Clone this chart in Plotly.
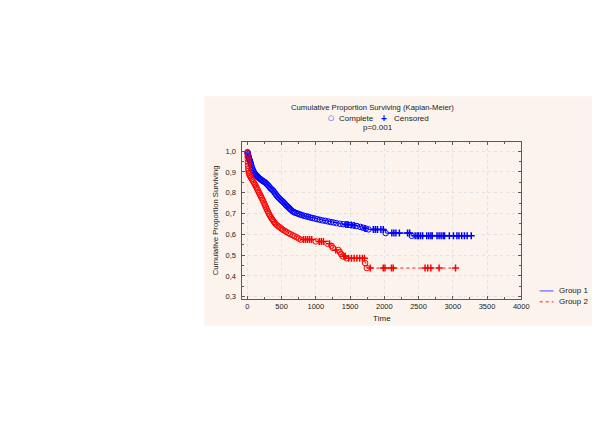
import numpy as np
import plotly.graph_objects as go

# ---------------- data ----------------
g1_event_time = [0, 3, 6, 10, 14, 18, 23, 28, 34, 40, 47, 54, 62, 70, 80, 90, 100, 112, 125, 140,
                 155, 170, 185, 200, 215, 230, 245, 260, 275, 290, 305, 320, 335, 350, 365, 380,
                 395, 410, 425, 440, 455, 470, 485, 500, 515, 530, 545, 560, 575, 590, 605, 620,
                 640, 660, 680, 700, 725, 750, 775, 800, 830, 860, 890, 920, 950, 985, 1020, 1060,
                 1100, 1140, 1180, 1220, 1260, 1300, 1350, 1400, 1450, 1500, 1550, 1600, 1650,
                 1690, 1730, 1770, 2020, 2400]
g1_event_surv = [1.000, 0.995, 0.990, 0.984, 0.978, 0.972, 0.966, 0.961, 0.956, 0.951, 0.944, 0.936,
                 0.926, 0.918, 0.910, 0.903, 0.896, 0.891, 0.886, 0.881, 0.876, 0.871, 0.867, 0.863,
                 0.859, 0.856, 0.853, 0.850, 0.845, 0.840, 0.835, 0.829, 0.823, 0.818, 0.814, 0.809,
                 0.802, 0.795, 0.788, 0.782, 0.777, 0.772, 0.767, 0.762, 0.758, 0.753, 0.748, 0.742,
                 0.737, 0.733, 0.728, 0.723, 0.717, 0.711, 0.707, 0.704, 0.701, 0.698, 0.695, 0.692,
                 0.689, 0.687, 0.684, 0.681, 0.679, 0.676, 0.673, 0.670, 0.667, 0.665, 0.662, 0.659,
                 0.657, 0.654, 0.651, 0.649, 0.647, 0.645, 0.643, 0.640, 0.636, 0.632, 0.628, 0.624,
                 0.606, 0.593]
g1_cens_time = [1440, 1470, 1520, 1560, 1720, 1840, 1870, 1900, 1950, 1985, 2110, 2140, 2170, 2220,
                2340, 2370, 2450, 2480, 2500, 2530, 2560, 2620, 2650, 2680, 2700, 2770, 2800, 2830,
                2860, 2880, 2950, 3010, 3060, 3090, 3130, 3170, 3210, 3270]
g1_cens_surv = [0.647, 0.647, 0.645, 0.643, 0.628, 0.624, 0.624, 0.624, 0.624, 0.624, 0.606, 0.606,
                0.606, 0.606, 0.606, 0.606, 0.593, 0.593, 0.593, 0.593, 0.593, 0.593, 0.593, 0.593,
                0.593, 0.593, 0.593, 0.593, 0.593, 0.593, 0.593, 0.593, 0.593, 0.593, 0.593, 0.593,
                0.593, 0.593]

g2_event_time = [0, 2, 4, 6, 8, 10, 13, 16, 22, 30, 40, 52, 65, 78, 90, 102, 114, 126, 138, 150,
                 162, 174, 186, 198, 210, 222, 234, 246, 258, 270, 282, 294, 306, 318, 330, 345,
                 360, 375, 390, 405, 420, 440, 460, 480, 500, 520, 545, 570, 600, 630, 660, 690,
                 720, 750, 780, 1000, 1170, 1230, 1250, 1330, 1350, 1370, 1390, 1450, 1720, 1745]
g2_event_surv = [1.000, 0.990, 0.975, 0.960, 0.945, 0.930, 0.915, 0.905, 0.895, 0.887, 0.880, 0.873,
                 0.866, 0.859, 0.852, 0.845, 0.838, 0.830, 0.822, 0.814, 0.806, 0.798, 0.790, 0.782,
                 0.774, 0.766, 0.758, 0.749, 0.740, 0.731, 0.722, 0.713, 0.705, 0.697, 0.690, 0.682,
                 0.674, 0.667, 0.660, 0.653, 0.647, 0.642, 0.637, 0.632, 0.627, 0.622, 0.617, 0.612,
                 0.606, 0.601, 0.596, 0.591, 0.586, 0.580, 0.575, 0.566, 0.555, 0.545, 0.535, 0.525,
                 0.515, 0.505, 0.495, 0.485, 0.462, 0.438]
g2_cens_time = [820, 850, 880, 910, 940, 1050, 1080, 1110, 1200, 1290, 1410, 1430, 1480, 1520, 1560,
                1600, 1640, 1680, 1710, 1795, 1985, 2010, 2105, 2130, 2595, 2635, 2680, 2800, 3040]
g2_cens_surv = [0.575, 0.575, 0.575, 0.575, 0.575, 0.566, 0.566, 0.566, 0.555, 0.525, 0.495, 0.495,
                0.485, 0.485, 0.485, 0.485, 0.485, 0.485, 0.485, 0.438, 0.438, 0.438, 0.438, 0.438,
                0.438, 0.438, 0.438, 0.438, 0.438]

group_names = ["Group 1", "Group 2"]
marker_names = ["Complete", "Censored"]
x_ticks = [0, 500, 1000, 1500, 2000, 2500, 3000, 3500, 4000]
y_ticks = [0.3, 0.4, 0.5, 0.6, 0.7, 0.8, 0.9, 1.0]

title_text = "Cumulative Proportion Surviving (Kaplan-Meier)"
p_text = "p=0.001"
x_title = "Time"
y_title = "Cumulative Proportion Surviving"

BLUE = "#0000ff"
RED = "#ff0000"
TXT = "#1a1a1a"
FONT = "Liberation Sans, Arial, sans-serif"

# reference frame size, used only to express layout positions as fractions of the page
W, H = 600, 424


def px(X):
    return X / W


def py(Y):
    return (H - Y) / H


def step_points(et, es, ct, cs):
    t = np.concatenate([et, ct])
    s = np.concatenate([es, cs])
    order = np.argsort(t, kind="stable")
    return t[order], s[order]


fig = go.Figure()

groups = [
    (g1_event_time, g1_event_surv, g1_cens_time, g1_cens_surv, BLUE, "solid", 1.0),
    (g2_event_time, g2_event_surv, g2_cens_time, g2_cens_surv, RED, "dot", 0.9),
]

for name, (et, es, ct, cs, col, dash, lw) in zip(group_names, groups):
    lt, ls = step_points(np.array(et, float), np.array(es, float),
                         np.array(ct, float), np.array(cs, float))
    fig.add_trace(go.Scatter(x=lt, y=ls, mode="lines", name=name, showlegend=False, hoverinfo="skip",
                             line=dict(color=col, width=lw, dash=dash, shape="hv")))
    fig.add_trace(go.Scatter(x=et[1:], y=es[1:], mode="markers", name=name + " " + marker_names[0],
                             showlegend=False,
                             marker=dict(symbol="circle-open", size=5.5, color=col,
                                         line=dict(width=1, color=col))))
    fig.add_trace(go.Scatter(x=ct, y=cs, mode="markers", name=name + " " + marker_names[1],
                             showlegend=False,
                             marker=dict(symbol="cross-thin", size=5, color=col,
                                         line=dict(width=1.5, color=col))))

axis_common = dict(showline=True, linecolor="#5a5a5a", linewidth=1, mirror="allticks",
                   ticks="inside", ticklen=3, tickcolor="#5a5a5a",
                   showgrid=True, gridcolor="#e2e2e2", griddash="dot", gridwidth=1,
                   zeroline=False, tickfont=dict(family=FONT, size=7.5, color=TXT))

annotations = [
    dict(text=title_text, x=px(378), y=py(108), font=dict(size=7.7, color=TXT)),
    dict(text="○", x=px(335), y=py(119), font=dict(size=7, color=BLUE, family="DejaVu Sans")),
    dict(text=marker_names[0], x=px(342), y=py(119), xanchor="left", font=dict(size=8, color=TXT)),
    dict(text="<b>+</b>", x=px(389), y=py(119), font=dict(size=10, color=BLUE)),
    dict(text=marker_names[1], x=px(397), y=py(119), xanchor="left", font=dict(size=8, color=TXT)),
    dict(text=p_text, x=px(383), y=py(128), font=dict(size=8, color=TXT)),
    dict(text=group_names[0], x=px(565), y=py(293), xanchor="left", font=dict(size=8, color=TXT)),
    dict(text=group_names[1], x=px(565), y=py(304), xanchor="left", font=dict(size=8, color=TXT)),
]
for a in annotations:
    a.setdefault("xanchor", "center")
    a.update(xref="paper", yref="paper", showarrow=False, yanchor="middle")

shapes = [
    dict(type="rect", x0=px(207), x1=1.0, y0=py(328), y1=py(97),
         fillcolor="#fcf4ec", line=dict(width=0), layer="below"),
    dict(type="line", x0=px(547), x1=px(561), y0=py(293), y1=py(293),
         line=dict(color="#7070ff", width=1.3)),
    dict(type="line", x0=px(547), x1=px(561), y0=py(304), y1=py(304),
         line=dict(color=RED, width=0.9, dash="dot")),
]
for s in shapes:
    s.update(xref="paper", yref="paper")

fig.update_layout(
    autosize=True,
    margin=dict(l=0, r=0, t=0, b=0),
    paper_bgcolor="white", plot_bgcolor="white",
    separators=", ",
    showlegend=False,
    hovermode=False,
    font=dict(family=FONT, size=8, color=TXT),
    xaxis=dict(domain=[px(245.7), px(528.3)], range=[-72, 4000], tickvals=x_ticks,
               title=dict(text=x_title, font=dict(size=8, color=TXT), standoff=5),
               minor=dict(ticks="inside", ticklen=2, dtick=250, tickcolor="#5a5a5a", showgrid=False),
               **axis_common),
    yaxis=dict(domain=[py(301), py(143)], range=[0.29, 1.044], tickvals=y_ticks, tickformat=".1f",
               title=dict(text=y_title, font=dict(size=7.7, color=TXT), standoff=5),
               minor=dict(ticks="inside", ticklen=2, dtick=0.05, tickcolor="#5a5a5a", showgrid=False),
               ticklabelstandoff=4,
               **axis_common),
    shapes=shapes,
    annotations=annotations,
)

fig.write_html(
    "out.html",
    default_width="100vw",
    default_height="100vh",
    config={"displayModeBar": False, "staticPlot": True},
    post_script=("document.documentElement.style.margin='0';"
                 "document.documentElement.style.overflow='hidden';"
                 "document.body.style.margin='0';document.body.style.overflow='hidden';"),
)
